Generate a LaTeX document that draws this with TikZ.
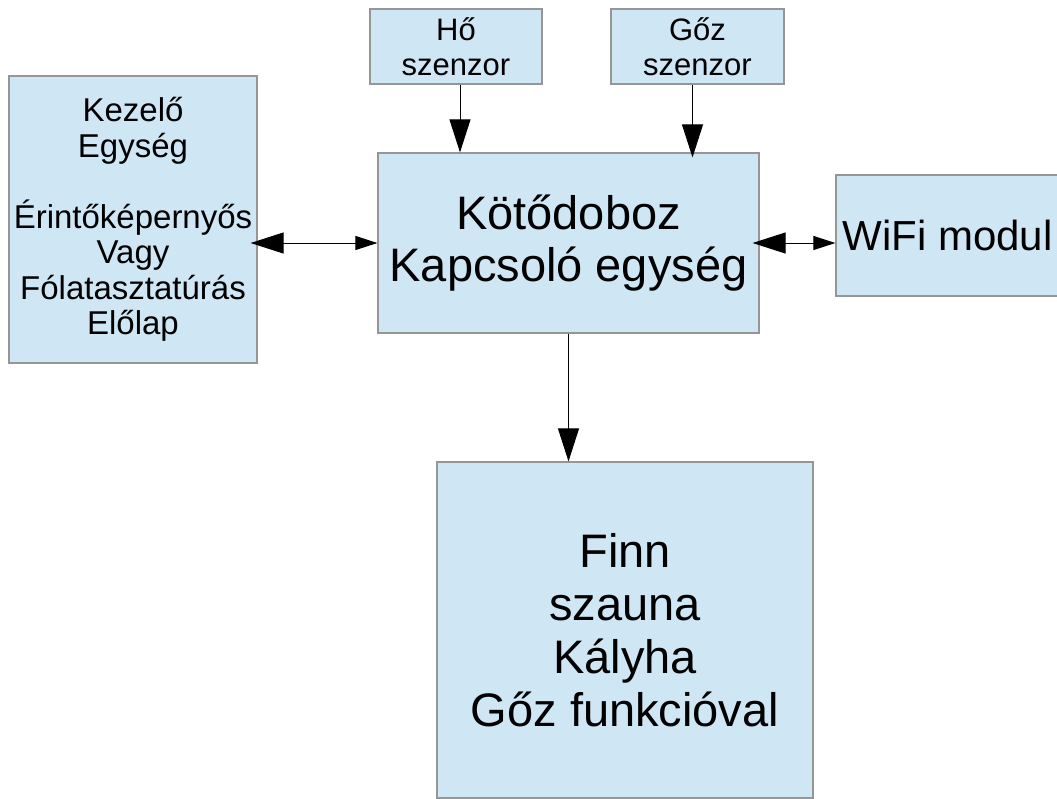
\documentclass[tikz,border=0pt]{standalone}
\usepackage{fontspec}
\setmainfont{Liberation Sans}
\usetikzlibrary{arrows.meta}
\definecolor{boxfill}{RGB}{207,231,245}
\definecolor{boxline}{RGB}{150,150,150}
\begin{document}
\begin{tikzpicture}[x=1pt,y=-1pt,
  box/.style={draw=boxline,line width=1.2pt,fill=boxfill,rectangle,align=center,inner sep=0pt},
  small/.style={font=\fontsize{31}{35}\selectfont},
  big/.style={font=\fontsize{47}{52}\selectfont},
  link/.style={line width=1pt,-{Triangle[length=33pt,width=21pt]}},
  twoway/.style={line width=1pt,{Triangle[length=33pt,width=21pt]}-{Triangle[length=22pt,width=14pt]}}]
\clip (0,0) rectangle (1057,798);
\node[box,small,minimum width=172pt,minimum height=75pt] (ho) at (456,46.5) {Hő\\szenzor};
\node[box,small,minimum width=173pt,minimum height=75pt] (goz) at (697.5,46.5) {Gőz\\szenzor};
\node[box,font=\fontsize{33}{35.5}\selectfont,minimum width=248pt,minimum height=287pt] (kez) at (133,219.5) {Kezelő\\Egység\\[35.5pt]Érintőképernyős\\Vagy\\Fólatasztatúrás\\Előlap};
\node[box,big,minimum width=381pt,minimum height=180pt] (kd) at (568.5,243) {Kötődoboz\\Kapcsoló egység};
\node[box,font=\fontsize{42}{47}\selectfont,minimum width=223pt,minimum height=121pt] (wifi) at (947.5,235.5) {WiFi modul};
\node[box,font=\fontsize{47}{53}\selectfont,minimum width=376pt,minimum height=336pt] (finn) at (625,630) {Finn\\szauna\\Kályha\\Gőz funkcióval};
\draw[link] ([xshift=4pt]ho.south) -- ([xshift=4pt]ho.south |- kd.north);
\draw[link] ([xshift=-5pt]goz.south) -- ([xshift=-5pt,yshift=-5pt]goz.south |- kd.north);
\draw[twoway] ([xshift=-7pt]kd.west -| kez.east) -- (kd.west);
\draw[twoway] ([xshift=-7pt]kd.east) -- (kd.east -| wifi.west);
\draw[link] (kd.south) -- (kd.south |- finn.north);
\end{tikzpicture}
\end{document}
